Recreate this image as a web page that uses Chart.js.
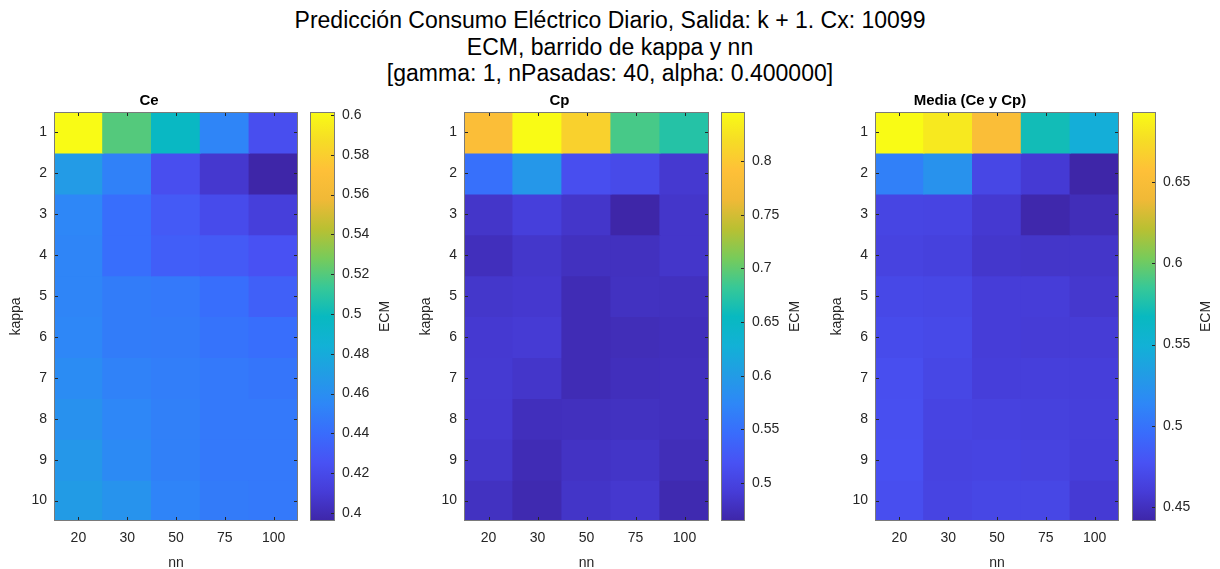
<!DOCTYPE html>
<html>
<head>
<meta charset="utf-8">
<script src="https://cdn.jsdelivr.net/npm/chart.js@4.4.1/dist/chart.umd.min.js"></script>
<style>
  body { margin: 0; width: 1220px; height: 569px; background: #fff; position: relative; overflow: hidden; font-family: "Liberation Sans", Arial, sans-serif; }
  canvas { position: absolute; }
  #titulo { position: absolute; left: 0; top: 7px; width: 1220px; text-align: center; font-size: 23px; line-height: 26.5px; color: #000; }
</style>
</head>
<body>
<div id="titulo">Predicción Consumo Eléctrico Diario, Salida: k + 1. Cx: 10099<br>ECM, barrido de kappa y nn<br>[gamma: 1, nPasadas: 40, alpha: 0.400000]</div>

<canvas id="hm1" width="298" height="483" style="left:0px;top:90px"></canvas>
<canvas id="cb1" width="95" height="479" style="left:310px;top:90px"></canvas>
<canvas id="hm2" width="299" height="483" style="left:410px;top:90px"></canvas>
<canvas id="cb2" width="95" height="479" style="left:721px;top:90px"></canvas>
<canvas id="hm3" width="298" height="483" style="left:821px;top:90px"></canvas>
<canvas id="cb3" width="95" height="479" style="left:1132px;top:90px"></canvas>

<script>
const nn = ['20', '30', '50', '75', '100'];
const kappa = [1, 2, 3, 4, 5, 6, 7, 8, 9, 10];

// ECM, filas = kappa, columnas = nn
const ce = [
  [0.6015, 0.520, 0.497, 0.4535, 0.4227],
  [0.4687, 0.4515, 0.4227, 0.408, 0.396],
  [0.4548, 0.441, 0.4297, 0.4207, 0.4124],
  [0.4535, 0.441, 0.432, 0.4297, 0.4248],
  [0.4535, 0.449, 0.447, 0.441, 0.433],
  [0.455, 0.449, 0.448, 0.444, 0.441],
  [0.458, 0.452, 0.450, 0.447, 0.445],
  [0.462, 0.455, 0.451, 0.447, 0.447],
  [0.466, 0.457, 0.451, 0.447, 0.447],
  [0.469, 0.463, 0.453, 0.448, 0.447]
];
const cp = [
  [0.785, 0.8457, 0.8076, 0.689, 0.672],
  [0.550, 0.594, 0.514, 0.5085, 0.4875],
  [0.4837, 0.495, 0.484, 0.4646, 0.484],
  [0.476, 0.485, 0.478, 0.478, 0.484],
  [0.485, 0.487, 0.472, 0.479, 0.478],
  [0.488, 0.490, 0.472, 0.474, 0.476],
  [0.489, 0.484, 0.472, 0.476, 0.477],
  [0.488, 0.476, 0.477, 0.479, 0.477],
  [0.485, 0.472, 0.481, 0.483, 0.474],
  [0.479, 0.469, 0.483, 0.487, 0.469]
];
const media = [
  [0.6931, 0.683, 0.652, 0.571, 0.547],
  [0.509, 0.523, 0.468, 0.458, 0.4414],
  [0.467, 0.466, 0.457, 0.443, 0.448],
  [0.465, 0.463, 0.455, 0.454, 0.454],
  [0.469, 0.468, 0.460, 0.460, 0.456],
  [0.472, 0.470, 0.460, 0.459, 0.459],
  [0.474, 0.468, 0.461, 0.462, 0.461],
  [0.475, 0.466, 0.464, 0.463, 0.462],
  [0.476, 0.465, 0.466, 0.465, 0.461],
  [0.474, 0.466, 0.468, 0.468, 0.458]
];

const ceTicks = [0.4, 0.42, 0.44, 0.46, 0.48, 0.5, 0.52, 0.54, 0.56, 0.58, 0.6];
const cpTicks = [0.5, 0.55, 0.6, 0.65, 0.7, 0.75, 0.8];
const mediaTicks = [0.45, 0.5, 0.55, 0.6, 0.65];

// parula aproximado
const parulaStops = [
  [0.000, [62, 38, 168]],
  [0.071, [70, 60, 215]],
  [0.143, [72, 82, 244]],
  [0.214, [57, 108, 252]],
  [0.286, [46, 135, 247]],
  [0.357, [34, 156, 229]],
  [0.429, [18, 177, 214]],
  [0.500, [8, 185, 192]],
  [0.571, [55, 200, 151]],
  [0.643, [120, 203, 90]],
  [0.714, [185, 192, 50]],
  [0.786, [240, 185, 55]],
  [0.857, [254, 192, 56]],
  [0.929, [246, 220, 38]],
  [1.000, [249, 251, 21]]
];

function parula(t) {
  t = Math.max(0, Math.min(1, t));
  for (let i = 1; i < parulaStops.length; i++) {
    const [t1, c1] = parulaStops[i];
    const [t0, c0] = parulaStops[i - 1];
    if (t <= t1) {
      const f = (t - t0) / (t1 - t0);
      const c = c0.map((v, j) => Math.round(v + (c1[j] - v) * f));
      return `rgb(${c[0]},${c[1]},${c[2]})`;
    }
  }
  return 'rgb(249,251,21)';
}

const font = { family: '"Liberation Sans", Arial, sans-serif', size: 14 };
const txt = '#262626';

// caja y marcas hacia dentro, estilo MATLAB
const boxTicks = {
  id: 'boxTicks',
  afterDatasetsDraw(chart, args, opts) {
    const { ctx, chartArea: a, scales } = chart;
    ctx.save();
    ctx.strokeStyle = txt;
    ctx.lineWidth = 1;
    ctx.beginPath();
    if (opts.xTicks) {
      scales.x.ticks.forEach((t, i) => {
        const px = Math.round(scales.x.getPixelForTick(i)) + 0.5;
        ctx.moveTo(px, a.top); ctx.lineTo(px, a.top + 4);
        ctx.moveTo(px, a.bottom); ctx.lineTo(px, a.bottom - 4);
      });
    }
    scales.y.ticks.forEach((t, i) => {
      const py = Math.round(scales.y.getPixelForTick(i)) + 0.5;
      if (opts.left) { ctx.moveTo(a.left, py); ctx.lineTo(a.left + 4, py); }
      ctx.moveTo(a.right, py); ctx.lineTo(a.right - 4, py);
    });
    ctx.stroke();
    ctx.strokeStyle = '#7a7a7a';
    ctx.strokeRect(Math.round(a.left) + 0.5, Math.round(a.top) + 0.5, Math.round(a.width) - 1, Math.round(a.height) - 1);
    ctx.restore();
  }
};

const cbLabel = {
  id: 'cbLabel',
  afterDraw(chart, args, opts) {
    const { ctx, chartArea: a } = chart;
    ctx.save();
    ctx.translate(a.right + opts.offset, (a.top + a.bottom) / 2);
    ctx.rotate(-Math.PI / 2);
    ctx.font = '14px "Liberation Sans", Arial, sans-serif';
    ctx.fillStyle = txt;
    ctx.textAlign = 'center';
    ctx.textBaseline = 'middle';
    ctx.fillText(opts.text, 0, 0);
    ctx.restore();
  }
};

function heatmap(id, title, vals) {
  const all = vals.flat();
  const lo = Math.min(...all), hi = Math.max(...all);
  const datasets = kappa.map((k, i) => ({
    data: nn.map(() => [k - 0.5, k + 0.5]),
    backgroundColor: vals[i].map(v => parula((v - lo) / (hi - lo))),
    borderWidth: 0,
    inflateAmount: 0.6,
    grouped: false,
    barPercentage: 1,
    categoryPercentage: 1
  }));
  new Chart(document.getElementById(id), {
    type: 'bar',
    data: { labels: nn, datasets },
    plugins: [boxTicks],
    options: {
      responsive: false,
      animation: false,
      layout: { padding: 0 },
      plugins: {
        legend: { display: false },
        tooltip: { enabled: false },
        title: {
          display: true, text: title, color: '#000',
          font: { family: font.family, size: 15, weight: 'bold', lineHeight: '17px' },
          padding: { top: 2, bottom: 3 }
        },
        boxTicks: { xTicks: true, left: true }
      },
      scales: {
        x: {
          grid: { display: false, drawTicks: false },
          border: { display: false },
          ticks: { color: txt, font, padding: 9 },
          title: { display: true, text: 'nn', color: txt, font, padding: { top: 0, bottom: 1 } },
          afterFit(s) { s.height = 52; }
        },
        y: {
          type: 'linear', min: 0.5, max: 10.5, reverse: true,
          grid: { display: false, drawTicks: false },
          border: { display: false },
          afterBuildTicks(s) { s.ticks = kappa.map(v => ({ value: v })); },
          ticks: { color: txt, font, padding: 7, callback: v => String(v) },
          title: { display: true, text: 'kappa', color: txt, font, padding: { top: 8, bottom: 0 } },
          afterFit(s) { s.width = 54; }
        }
      }
    }
  });
  return [lo, hi];
}

function colorbar(id, range, ticks, cbW) {
  const [lo, hi] = range;
  new Chart(document.getElementById(id), {
    type: 'bar',
    data: {
      labels: ['ECM'],
      datasets: [{
        data: [[lo, hi]],
        borderWidth: 0,
        barPercentage: 1,
        categoryPercentage: 1,
        backgroundColor(c) {
          const a = c.chart.chartArea;
          if (!a) return '#888';
          const g = c.chart.ctx.createLinearGradient(0, a.bottom, 0, a.top);
          parulaStops.forEach(([t, col]) => g.addColorStop(t, `rgb(${col[0]},${col[1]},${col[2]})`));
          return g;
        }
      }]
    },
    plugins: [boxTicks, cbLabel],
    options: {
      responsive: false,
      animation: false,
      layout: { padding: { top: 22, bottom: 48, left: 0, right: 0 } },
      plugins: {
        legend: { display: false },
        tooltip: { enabled: false },
        boxTicks: { xTicks: false, left: false },
        cbLabel: { text: 'ECM', offset: 50 }
      },
      scales: {
        x: { display: false },
        y: {
          type: 'linear', position: 'right', min: lo, max: hi,
          grid: { display: false, drawTicks: false },
          border: { display: false },
          afterBuildTicks(s) { s.ticks = ticks.map(v => ({ value: v })); },
          ticks: { color: txt, font, padding: 7, callback: v => String(v) },
          afterFit(s) { s.width = 95 - cbW; }
        }
      }
    }
  });
}

colorbar('cb1', heatmap('hm1', 'Ce', ce), ceTicks, 25);
colorbar('cb2', heatmap('hm2', 'Cp', cp), cpTicks, 24);
colorbar('cb3', heatmap('hm3', 'Media (Ce y Cp)', media), mediaTicks, 24);
</script>
</body>
</html>
